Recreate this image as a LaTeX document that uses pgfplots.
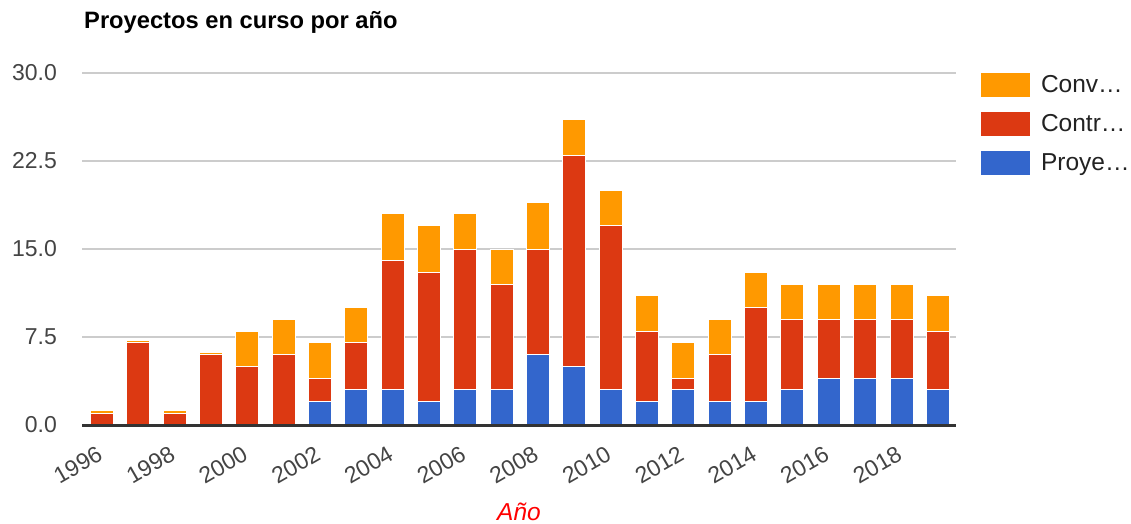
\documentclass[border=0pt]{standalone}
\usepackage{pgfplots}
\pgfplotsset{compat=1.18}
\usepackage{fontspec}
\setmainfont{Liberation Sans}
\definecolor{cblue}{HTML}{3366CC}
\definecolor{cred}{HTML}{DC3912}
\definecolor{corange}{HTML}{FF9900}
\definecolor{gridc}{HTML}{CCCCCC}
\definecolor{basec}{HTML}{333333}
\definecolor{tickc}{HTML}{444444}
\definecolor{legc}{HTML}{222222}
\begin{document}
\begin{tikzpicture}
\path[use as bounding box] (0,0) rectangle (1131pt,523pt);
\begin{axis}[
  at={(82pt,98pt)}, anchor=south west,
  scale only axis, width=874pt, height=352pt,
  ybar stacked, bar width=23pt,
  xmin=1995.45, xmax=2019.5, ymin=0, ymax=30,
  xtick={1996,1998,...,2018},
  ytick={0,7.5,15,22.5,30},
  axis line style={draw=none},
  major tick length=0pt,
  ymajorgrids, major grid style={draw=gridc, line width=1.8pt},
  /pgf/number format/assume math mode=true,
  xticklabel style={/pgf/number format/1000 sep={}, font=\fontsize{23}{27}\selectfont, text=tickc, inner sep=0pt, xshift=-6pt, yshift=-20pt, rotate=30, anchor=north east},
  yticklabel style={/pgf/number format/.cd, fixed, fixed zerofill, precision=1, /tikz/.cd, font=\fontsize{23}{27}\selectfont, text=tickc, inner sep=0pt, anchor=east, xshift=-25pt},
  xlabel={Año},
  xlabel style={font=\fontsize{24.5}{28}\selectfont\itshape, text=red, at={(axis description cs:0.5,0)}, anchor=base, yshift=-95pt, inner sep=0pt},
  legend style={at={(1,1)}, anchor=north west, xshift=24pt, yshift=1pt, draw=none, fill=none, inner sep=0pt, outer sep=0pt, row sep=12.8pt, column sep=10pt, font=\fontsize{24.5}{28}\selectfont, text=legc, nodes={inner sep=0pt}},
  legend cell align=left,
  reverse legend,
  legend image code/.code={\fill[#1] (0pt,-12.5pt) rectangle (50pt,12.5pt);},
]
\addplot[fill=cblue, draw=white, line width=1pt] coordinates {
(1996,0) (1997,0) (1998,0) (1999,0) (2000,0) (2001,0) (2002,2) (2003,3)
(2004,3) (2005,2) (2006,3) (2007,3) (2008,6) (2009,5) (2010,3) (2011,2)
(2012,3) (2013,2) (2014,2) (2015,3) (2016,4) (2017,4) (2018,4) (2019,3)};
\addplot[fill=cred, draw=white, line width=1pt] coordinates {
(1996,1) (1997,7) (1998,1) (1999,6) (2000,5) (2001,6) (2002,2) (2003,4)
(2004,11) (2005,11) (2006,12) (2007,9) (2008,9) (2009,18) (2010,14) (2011,6)
(2012,1) (2013,4) (2014,8) (2015,6) (2016,5) (2017,5) (2018,5) (2019,5)};
\addplot[fill=corange, draw=white, line width=1pt] coordinates {
(1996,0.2) (1997,0.2) (1998,0.2) (1999,0.2) (2000,3) (2001,3) (2002,3) (2003,3)
(2004,4) (2005,4) (2006,3) (2007,3) (2008,4) (2009,3) (2010,3) (2011,3)
(2012,3) (2013,3) (2014,3) (2015,3) (2016,3) (2017,3) (2018,3) (2019,3)};
\legend{Proye…, Contr…, Conv…}
\end{axis}
\draw[basec, line width=3pt] (82pt,97.5pt) -- (956pt,97.5pt);
\node[anchor=base west, inner sep=0pt, font=\fontsize{23.7}{28}\selectfont\bfseries] at (84pt,494pt) {Proyectos en curso por año};
\end{tikzpicture}
\end{document}
